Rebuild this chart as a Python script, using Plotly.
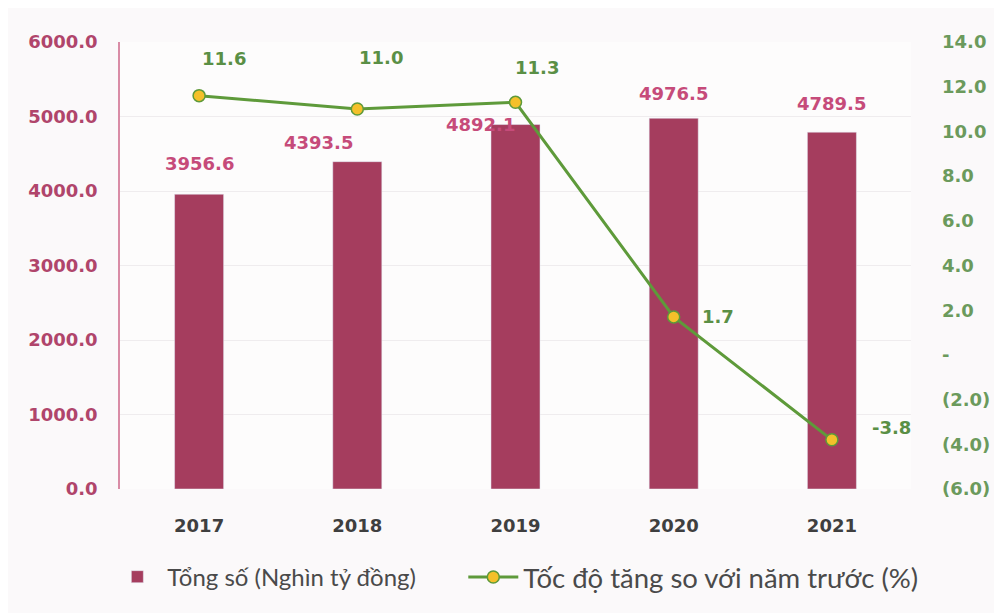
import plotly.graph_objects as go

years = [2017, 2018, 2019, 2020, 2021]
year_text = ["2017", "2018", "2019", "2020", "2021"]
total = [3956.6, 4393.5, 4892.1, 4976.5, 4789.5]
growth = [11.6, 11.0, 11.3, 1.7, -3.8]
total_labels = ["3956.6", "4393.5", "4892.1", "4976.5", "4789.5"]
growth_labels = ["11.6", "11.0", "11.3", "1.7", "-3.8"]
left_ticks = [0, 1000, 2000, 3000, 4000, 5000, 6000]
left_text = ["0.0", "1000.0", "2000.0", "3000.0", "4000.0", "5000.0", "6000.0"]
right_ticks = [-6, -4, -2, 0, 2, 4, 6, 8, 10, 12, 14]
right_text = ["(6.0)", "(4.0)", "(2.0)", "-", "2.0", "4.0", "6.0", "8.0", "10.0", "12.0", "14.0"]

name_bar = "Tổng số (Nghìn tỷ đồng)"
name_line = "Tốc độ tăng so với năm trước (%)"

bar_color = "#A53D5E"
bar_lbl_color = "#C64B7A"
left_tick_color = "#B0456B"
line_color = "#5E9A3A"
line_lbl_color = "#5A8F45"
right_tick_color = "#6B9A5C"
num_font = "'DejaVu Sans', sans-serif"
txt_font = "Lato, 'DejaVu Sans', sans-serif"

# label offsets (pixels) relative to bar top / marker
bar_off = [(0, 31), (-39, 19), (-35, 0), (0, 25), (0, 29)]
line_off = [(25, 37), (24, 52), (21, 35), (44, 0), (60, 12)]

fig = go.Figure()
fig.add_trace(go.Bar(
    x=years, y=total, name=name_bar, marker_color=bar_color,
    width=0.31, yaxis="y", legend="legend",
))
fig.add_trace(go.Scatter(
    x=years, y=growth, name=name_line, yaxis="y2", mode="lines+markers",
    line=dict(color=line_color, width=3),
    marker=dict(size=12, color="#F4C02A", line=dict(color=line_color, width=1.5)),
    legend="legend2",
))

annotations = []
for yr, v, t, (dx, dy) in zip(years, total, total_labels, bar_off):
    annotations.append(dict(x=yr, y=v, xref="x", yref="y", text=t, showarrow=False,
                            xshift=dx, yshift=dy,
                            font=dict(family=num_font, size=18, color=bar_lbl_color, weight="bold")))
for yr, v, t, (dx, dy) in zip(years, growth, growth_labels, line_off):
    annotations.append(dict(x=yr, y=v, xref="x", yref="y2", text=t, showarrow=False,
                            xshift=dx, yshift=dy,
                            font=dict(family=num_font, size=18, color=line_lbl_color, weight="bold")))

fig.update_layout(
    width=994, height=605,
    margin=dict(l=112, r=86, t=34, b=124),
    paper_bgcolor="#FBF9FA", plot_bgcolor="#FDFCFC",
    font=dict(family=txt_font),
    xaxis=dict(
        range=[2016.5, 2021.5], tickvals=years, ticktext=year_text,
        showgrid=False, ticks="outside", ticklen=20, tickcolor="rgba(0,0,0,0)",
        showline=False, zeroline=False,
        tickfont=dict(family=num_font, size=18, color="#3F3F3F", weight="bold"),
    ),
    yaxis=dict(
        range=[0, 6000], tickvals=left_ticks, ticktext=left_text,
        showgrid=True, gridcolor="#EFECEE", gridwidth=1,
        showline=True, linecolor="#D98CA6", linewidth=1.5,
        zeroline=False, ticks="",
        tickfont=dict(family=num_font, size=18, color=left_tick_color, weight="bold"),
        ticklabelstandoff=17,
    ),
    yaxis2=dict(
        range=[-6, 14], tickvals=right_ticks, ticktext=right_text,
        overlaying="y", side="right", showgrid=False, zeroline=False,
        showline=False, ticks="",
        tickfont=dict(family=num_font, size=18, color=right_tick_color, weight="bold"),
        ticklabelstandoff=30,
    ),
    legend=dict(
        orientation="h", x=-0.016, xanchor="left", y=-0.197, yanchor="middle",
        font=dict(size=24, color="#4A4A4A"), itemwidth=50,
        bgcolor="rgba(0,0,0,0)",
    ),
    legend2=dict(
        orientation="h", x=0.434, xanchor="left", y=-0.197, yanchor="middle",
        font=dict(size=27.5, color="#4A4A4A"), itemwidth=50,
        bgcolor="rgba(0,0,0,0)",
    ),
    annotations=annotations,
    showlegend=True,
)

fig.write_html("out.html")
